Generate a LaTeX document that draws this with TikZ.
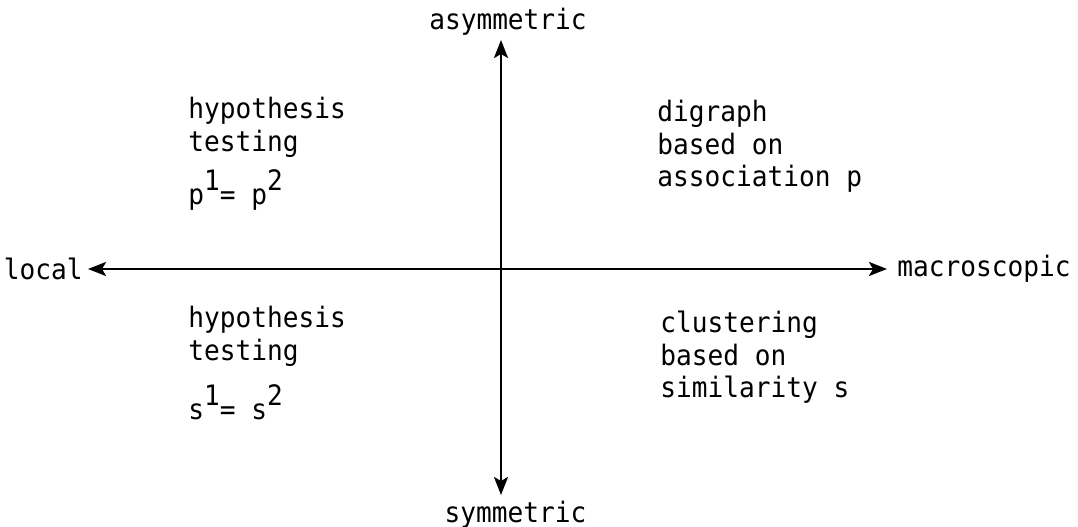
\documentclass[tikz,border=0pt]{standalone}
\usepackage{fontspec}
\setmainfont[FakeStretch=0.93]{DejaVu Sans Mono}
\usetikzlibrary{arrows.meta,positioning}
\newcommand{\up}[1]{\raisebox{0.28cm}{#1}}
\begin{document}
\begin{tikzpicture}[
			>={Stealth[length=3.6mm,width=2.8mm,inset=0.8mm]},
			every node/.style = {font=\fontsize{16}{18.5}\selectfont, inner sep=0pt},
			quad/.style       = {align=left, anchor=base west},
			axis/.style       = {<->, line width=1.4pt}
			]
			\useasboundingbox (0,0) rectangle (21.56,10.54);
			%--- axis ends ---
			\coordinate (o) at (10.02,5.16);
			\coordinate (w) at (1.76,5.16);
			\coordinate (e) at (17.74,5.16);
			\coordinate (n) at (10.02,9.74);
			\coordinate (s) at (10.02,0.64);
			
			%--- labels ---
			\node (loc) [left=1mm of w]               {local};
			\node (mac) [right=2mm of e]              {macroscopic};
			\node (asy) [above=0.8mm of n, xshift=1.4mm] {asymmetric};
			\node (sym) [below=1.2mm of s, xshift=2.9mm] {symmetric};
			
			%--- quadrants (placed at the last line) ---
			\node (tl) [quad] at (3.76,6.44) {hypothesis\\testing\\[0.22cm]p\up{1}= p\up{2}};
			\node (bl) [quad] at (3.76,2.14) {hypothesis\\testing\\[0.34cm]s\up{1}= s\up{2}};
			\node (tr) [quad] at (13.14,6.80) {digraph\\based on\\association p};
			\node (br) [quad] at (13.20,2.58) {clustering\\based on\\similarity s};
			
			%--- axes (arrows) ---
			\draw[axis] (w) -- (e);
			\draw[axis] (s) -- (n);
		\end{tikzpicture}
\end{document}
